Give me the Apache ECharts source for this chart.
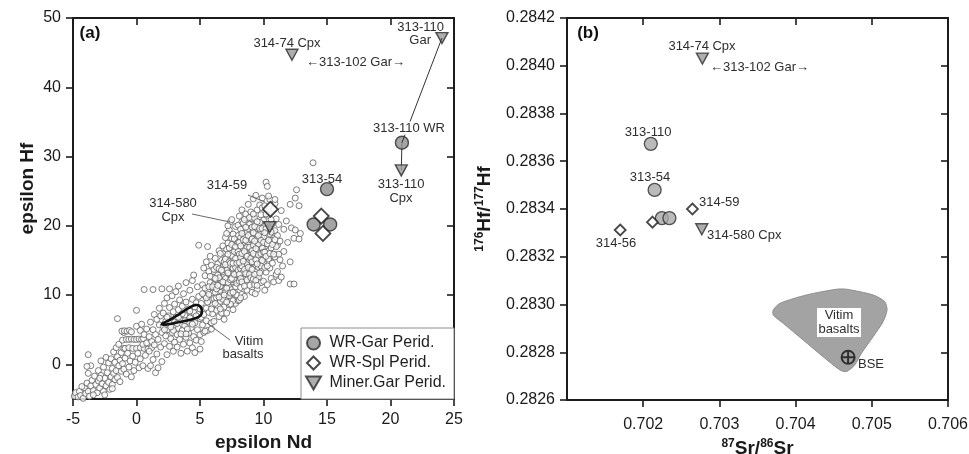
<!DOCTYPE html>
<html>
<head>
<meta charset="utf-8">
<script src="https://cdn.jsdelivr.net/npm/echarts@6/dist/echarts.min.js"></script>
<style>
  html, body { margin: 0; padding: 0; background: #fff; }
  #chart { width: 969px; height: 454px; }
</style>
</head>
<body>
<div id="chart"></div>
<script>
const FONT = '"Liberation Sans", Arial, Helvetica, sans-serif';

// ---- Panel (a): epsilon Nd vs epsilon Hf ----
// Compilation of published basalt / peridotite data (small open circles), by region of the array
const cloudTail = [
  [-4.9,-4.6],[-4.8,-4.1],[-4.6,-4.7],[-4.5,-3.9],[-4.4,-4.5],[-4.2,-4.9],[-4.1,-3.4],[-4.0,-4.2],
  [-3.9,-2.7],[-3.8,-3.9],[-3.8,-1.3],[-3.7,-4.6],[-3.6,-3.1],[-3.6,-0.2],[-3.5,-2.3],[-3.4,-3.8],
  [-3.3,-1.7],[-3.8,1.4],[-3.2,-2.9],[-3.1,-4.1],[-3.0,-0.9],[-3.0,-2.4],[-2.9,-3.4],[-2.8,-1.6],
  [-2.8,0.5],[-2.7,-2.8],[-2.6,-3.9],[-2.6,-0.4],[-2.5,-2.0],[-2.4,-3.1],[-2.4,1.0],[-2.3,-1.2],
  [-2.2,-2.6],[-2.2,0.2],[-2.1,-3.6],[-2.0,-1.8],[-2.0,0.8],[-1.9,-0.6],[-1.9,-2.9],[-1.8,1.8],
  [-1.8,-1.3],[-1.7,-2.2],[-1.7,0.3],[-1.6,2.4],[-1.6,-0.9],[-1.5,6.6],[-1.5,1.1],[-1.5,-1.9],
  [-1.4,-0.2],[-1.4,2.9],[-1.3,0.6],[-1.3,-2.5],[-1.2,1.7],[-1.2,-1.0],[-1.1,3.5],[-1.1,0.1],
  [-1.0,2.3],[-1.0,4.6],[-1.0,-0.7],[-3.9,-0.3],[-4.3,-3.2],[-3.4,-4.4],[-2.9,-2.0],[-2.5,-4.4],
  [-1.9,-3.5]
];
const cloudLow = [
  [-1.15,4.8],[-0.95,4.85],[-0.75,4.8],[-0.55,4.9],[-0.4,4.7],
  [-0.8,3.6],[-0.6,3.6],[-0.4,3.65],[-0.2,3.6],[0.0,3.6],[0.2,3.65],[0.4,3.6],[0.55,3.7],
  [-0.9,2.3],[-0.6,2.4],[-0.3,2.3],[0.0,2.3],[0.3,2.4],[0.6,2.3],[0.9,2.2],[1.2,2.4],
  [-0.9,0.9],[-0.8,-1.4],[-0.7,1.6],[-0.6,-0.4],[-0.5,0.5],[-0.4,-1.8],[-0.3,1.2],[-0.2,-0.9],
  [-0.1,0.3],[0.0,7.8],[0.0,5.5],[0.1,1.6],[0.2,-0.5],[0.3,4.9],[0.3,0.8],[0.4,5.8],[0.5,2.9],
  [0.5,-0.2],[0.6,4.3],[0.7,1.3],[0.8,3.1],[0.8,5.1],[0.9,-0.6],[1.0,1.9],[1.0,4.0],[1.1,-0.2],
  [1.1,6.1],[1.2,3.3],[1.3,0.7],[1.3,5.0],[1.4,2.8],[1.4,7.2],[1.5,-1.2],[1.5,4.3],[1.6,1.5],
  [1.6,6.5],[1.7,-0.5],[1.7,3.6],[1.8,5.7],[1.8,8.1],[1.9,2.5],[1.9,7.0],[2.0,4.6],[2.0,0.4],
  [0.6,10.8],[1.3,10.8]
];
const cloudMid = [
  [2.1,5.5],[2.1,7.4],[2.2,3.0],[2.2,8.8],[2.3,6.2],[2.3,4.1],[2.4,1.4],[2.4,9.6],[2.5,7.0],[2.5,5.0],
  [2.6,2.6],[2.6,8.2],[2.7,6.0],[2.7,3.7],[2.8,9.9],[2.8,4.6],[2.9,7.6],[2.9,1.9],[3.0,5.6],[3.0,8.7],
  [3.0,3.2],[3.1,6.8],[3.1,10.5],[3.2,4.3],[3.2,2.5],[3.3,7.9],[3.3,5.2],[3.4,9.3],[3.4,3.6],[3.5,6.4],
  [3.5,1.6],[3.6,8.4],[3.6,4.9],[3.7,10.2],[3.7,2.9],[3.8,7.1],[3.8,5.6],[3.9,3.9],[3.9,9.0],[4.0,6.2],
  [4.0,1.9],[4.1,8.0],[4.1,4.5],[4.2,10.7],[4.2,3.1],[4.3,6.9],[4.3,5.3],[4.4,9.4],[4.4,2.4],[4.5,7.5],
  [4.5,4.0],[4.6,1.7],[4.6,6.0],[4.7,8.9],[4.7,3.5],[4.8,11.2],[4.8,5.0],[4.9,7.2],[4.9,9.8],[5.0,4.3],
  [5.0,6.6],[5.0,2.2],[2.6,10.9],[3.3,11.3],[3.9,11.8],[4.4,12.1],[4.5,12.9],[2.0,10.9],[2.4,6.8],
  [3.0,6.1],[3.6,7.3],[4.2,7.7],[4.6,8.3],[2.9,4.9],[3.5,4.4],[4.0,5.1],[4.4,5.8],[3.2,5.9],[5.1,6.8],
  [5.0,8.0],[4.7,7.0],[4.2,6.7],[3.8,6.3],[3.3,6.8],[2.7,5.4],[2.2,5.0],[3.9,4.4]
];
const cloudCore = [
  [5.1,3.3],[5.1,8.8],[5.2,5.7],[5.2,11.5],[5.3,7.2],[5.3,4.6],[5.4,9.9],[5.4,12.8],[5.5,6.3],[5.5,8.1],
  [5.6,10.6],[5.6,4.9],[5.7,13.4],[5.7,7.5],[5.8,9.2],[5.8,11.8],[5.9,6.0],[5.9,14.3],[6.0,8.6],[6.0,10.3],
  [6.0,12.6],[5.3,13.9],[5.5,14.8],[5.8,15.6],[4.9,17.2],[5.6,17.0],[5.9,5.1],[5.2,10.2],[5.4,11.0],[5.6,9.0],
  [5.8,12.7],[6.0,7.3],[5.7,11.2],[6.1,11.5],
  [6.1,6.2],[6.1,9.5],[6.1,13.7],[6.2,11.1],[6.2,15.3],[6.3,7.8],[6.3,12.2],[6.4,10.0],[6.4,14.5],[6.4,8.5],
  [6.5,16.4],[6.5,6.9],[6.5,11.6],[6.6,13.2],[6.6,9.1],[6.7,15.0],[6.7,12.0],[6.7,7.4],[6.8,10.6],[6.8,17.1],
  [6.8,14.0],[6.9,8.3],[6.9,12.9],[6.9,16.0],[7.0,11.0],[7.0,9.6],[7.0,13.8],[7.0,18.3],[6.2,8.8],[6.3,14.0],
  [6.6,10.4],[6.9,11.8],[6.4,12.9],[6.7,9.9],[6.2,10.4],[6.3,9.6],[6.5,12.5],[6.6,11.3],[6.8,9.4],[6.8,13.4],
  [6.9,14.8],[6.6,16.0],
  [7.1,7.4],[7.1,12.4],[7.1,15.6],[7.2,10.2],[7.2,17.5],[7.2,14.1],[7.3,8.6],[7.3,19.4],[7.3,12.9],[7.4,11.4],
  [7.4,16.2],[7.4,20.6],[7.5,9.4],[7.5,13.6],[7.5,18.2],[7.6,7.9],[7.6,15.1],[7.6,11.9],[7.7,10.5],[7.7,17.0],
  [7.7,14.4],[7.8,19.9],[7.8,12.6],[7.8,8.8],[7.9,16.0],[7.9,13.3],[7.9,10.0],[8.0,18.6],[8.0,14.9],[8.0,11.7],
  [7.2,20.0],[7.5,20.9],[7.1,18.9],[7.6,9.2],[7.3,11.1],[7.9,15.3],[7.4,13.0],[7.7,12.2],[8.0,9.2],[7.0,15.2],
  [7.0,10.4],[7.0,12.4],[7.1,13.6],[7.2,11.8],[7.3,14.8],[7.3,9.9],[7.4,12.2],[7.5,15.7],[7.5,10.8],[7.6,13.9],
  [7.7,16.3],[7.8,11.2],[7.8,14.0],[7.9,17.5],[8.0,12.9],[8.0,16.3],[7.1,16.6],[7.6,18.8],[8.0,20.1],
  [7.4,8.7],[6.9,6.5],[5.4,4.8]
];
const cloudDense = [
  [5.5,9.6],[5.7,10.1],[5.9,8.0],[6.0,11.2],[6.2,12.4],[6.3,10.9],[6.4,11.4],[6.5,9.7],[6.5,13.8],[6.6,8.0],
  [6.7,13.6],[6.8,11.9],[6.9,10.0],[7.0,14.4],[7.1,11.0],[7.1,9.0],[7.2,13.2],[7.2,15.9],[7.3,16.8],[7.4,10.3],
  [7.4,14.6],[7.5,12.4],[7.5,17.3],[7.6,14.6],[7.6,10.4],[7.7,13.0],[7.7,18.1],[7.8,15.3],[7.8,17.0],[7.9,11.7],
  [7.9,14.6],[8.0,13.6],[8.0,17.6],[8.1,15.9],[8.1,12.0],[8.2,18.3],[8.2,13.8],[8.3,15.1],[8.3,20.6],[8.4,13.3],
  [8.4,19.3],[8.5,15.0],[8.5,17.2],[8.6,14.2],[8.6,18.6],[8.7,13.4],[8.7,17.8],[8.8,15.3],[8.8,21.1],[8.9,14.2],
  [8.9,18.2],[9.0,17.0],[9.0,19.4],[9.1,15.5],[9.1,21.0],[9.2,14.0],[9.2,18.2],[9.3,16.7],[9.4,14.3],[9.4,20.7],
  [9.5,17.2],[9.5,12.9],[9.6,19.2],[9.6,16.6],[9.7,14.3],[9.7,18.4],[9.8,15.1],[9.8,20.5],[9.9,17.5],[9.9,14.0],
  [10.0,19.3],[10.0,15.3],[10.1,17.6],[10.2,16.6],[10.3,18.4],[10.4,16.4],[10.5,19.8],[10.6,17.9],[10.7,15.6],
  [10.8,19.0],[11.0,15.8],[11.1,17.2]
];
const cloudUpper = [
  [8.1,9.3],[8.1,13.0],[8.1,17.6],[8.1,21.4],[8.2,11.1],[8.2,15.4],[8.2,19.5],[8.3,10.1],[8.3,14.2],[8.3,22.3],
  [8.4,12.3],[8.4,16.8],[8.4,20.4],[8.5,9.8],[8.5,18.5],[8.5,13.7],[8.6,11.8],[8.6,15.9],[8.6,21.7],[8.7,14.6],
  [8.7,19.1],[8.7,10.7],[8.8,17.3],[8.8,12.8],[8.8,23.1],[8.9,20.2],[8.9,15.1],[8.9,11.4],[9.0,18.0],[9.0,13.9],
  [9.0,22.0],[9.0,16.5],[8.2,12.4],[8.4,18.0],[8.6,13.1],[8.8,19.6],[8.3,16.0],[8.7,16.9],[8.9,13.0],[8.5,20.9],
  [8.1,14.7],[8.2,17.1],[8.3,11.9],[8.3,18.9],[8.4,14.9],[8.5,16.3],[8.5,11.3],[8.6,17.9],[8.6,19.8],[8.7,12.2],
  [8.7,15.6],[8.8,14.0],[8.8,18.6],[8.9,16.9],[8.9,21.2],[9.0,12.5],[9.0,15.3],[8.2,9.6],
  [9.1,10.4],[9.1,19.8],[9.1,14.8],[9.2,12.3],[9.2,23.9],[9.2,17.2],[9.3,21.1],[9.3,15.8],[9.3,11.5],[9.4,13.4],
  [9.4,18.8],[9.4,24.4],[9.5,16.3],[9.5,10.8],[9.5,22.3],[9.6,14.0],[9.6,20.0],[9.6,12.6],[9.7,17.7],[9.7,23.0],
  [9.7,15.2],[9.8,19.2],[9.8,11.8],[9.8,21.6],[9.9,13.6],[9.9,16.8],[9.9,24.0],[10.0,18.4],[10.0,14.6],[10.0,20.8],
  [10.0,12.0],[9.2,19.0],[9.4,15.1],[9.6,17.4],[9.8,14.2],[9.3,13.0],[9.5,18.1],[9.7,20.5],[9.9,22.6],[9.1,16.4],
  [9.1,18.1],[9.1,13.7],[9.2,16.0],[9.2,21.7],[9.3,17.8],[9.3,19.9],[9.4,12.1],[9.4,16.7],[9.5,14.5],[9.5,20.6],
  [9.6,18.6],[9.6,15.8],[9.7,13.2],[9.7,19.6],[9.8,16.0],[9.8,17.9],[9.9,15.0],[9.9,19.6],[10.0,16.2],[10.0,17.6],
  [9.35,10.2],[9.5,11.4],
  [10.1,10.7],[10.1,16.2],[10.1,22.9],[10.2,26.3],[10.2,13.3],[10.2,19.6],[10.3,25.7],[10.3,17.4],[10.3,11.5],
  [10.4,15.2],[10.4,21.5],[10.5,23.8],[10.5,13.9],[10.5,18.8],[10.6,16.8],[10.6,12.4],[10.7,20.3],[10.7,14.6],
  [10.8,22.4],[10.8,17.7],[10.8,11.9],[10.9,15.5],[10.9,19.3],[11.0,13.0],[11.0,21.0],[11.0,17.0],[11.1,13.4],
  [11.1,18.6],[11.2,12.1],[11.2,15.9],[11.2,20.2],[11.3,15.1],[11.3,17.8],[11.4,22.2],[11.5,14.2],[11.6,16.3],
  [11.6,19.5],[11.8,20.7],[11.9,17.6],[10.4,24.3],[10.6,20.9],[10.9,23.2],[11.4,12.6],
  [10.1,14.0],[10.1,19.0],[10.2,15.6],[10.2,21.7],[10.3,14.2],[10.4,17.9],[10.5,16.0],[10.6,19.1],[10.7,17.3],
  [10.8,15.9],[10.9,18.0],[10.9,23.8]
];
const cloudOuter = [
  [12.1,14.8],[12.1,11.6],[12.4,11.6],[12.2,19.7],[12.5,19.4],[12.4,18.2],[12.8,18.1],[12.1,23.1],
  [12.5,24.0],[12.8,22.9],[12.6,25.2],[13.9,29.1],[12.9,18.9]
];

// Vitim basalts field outline (epsilon Nd, epsilon Hf)
const vitimOutlineA = [
  [2.0,5.8],[2.7,6.5],[3.4,7.3],[4.0,8.0],[4.5,8.5],[4.9,8.5],[5.15,7.8],[5.0,7.0],[4.4,6.5],[3.2,6.05],[2.4,5.75]
];

// Samples: [epsilon Nd, epsilon Hf]
// WR garnet peridotites: 313-110, 313-54, and two further samples
const wrGarA = [[20.9,32.0],[15.0,25.3],[13.95,20.2],[15.25,20.2]];
// WR spinel peridotites: 314-59 and two further samples
const wrSplA = [[10.54,22.4],[14.55,21.4],[14.68,18.9]];
// Minerals: 313-110 Gar, 314-74 Cpx, 313-110 Cpx, 314-580 Cpx
const minerA = [[24.05,47.1],[12.24,44.7],[20.85,28.0],[10.48,19.8]];

const xTicksA = [-5,0,5,10,15,20,25];
const yTicksA = [0,10,20,30,40,50];

// ---- Panel (b): 87Sr/86Sr vs 176Hf/177Hf ----
// 313-110, 313-54, and two further garnet peridotites
const wrGarB = [[0.70210,0.283673],[0.70215,0.283480],[0.702245,0.283362],[0.702344,0.283362]];
// 314-56, one further spinel peridotite, 314-59
const wrSplB = [[0.701698,0.283312],[0.702122,0.283345],[0.702646,0.283400]];
// 314-74 Cpx, 314-580 Cpx
const minerB = [[0.702777,0.284030],[0.702769,0.283315]];
// Bulk silicate earth
const bseB = [[0.704689,0.282779]];
// Vitim basalts field
const vitimFieldB = [
  [0.703707,0.282977],[0.703795,0.283005],[0.704144,0.283040],[0.704537,0.283064],[0.704668,0.283064],
  [0.705017,0.283040],[0.705170,0.283012],[0.705200,0.282977],[0.705148,0.282928],[0.705017,0.282865],
  [0.704865,0.282796],[0.704777,0.282747],[0.704668,0.282719],[0.704581,0.282726],[0.704362,0.282781],
  [0.704100,0.282851],[0.703838,0.282921],[0.703707,0.282956]
];

const xTicksB = [0.702,0.703,0.704,0.705,0.706];
const yTicksB = [0.2826,0.2828,0.2830,0.2832,0.2834,0.2836,0.2838,0.2840,0.2842];

// ---- styles ----
const AXIS_COLOR = '#1c1c1c';
const GAR_A = { color: '#8e8e8e', borderColor: '#2a2a2a', borderWidth: 1.4 };
const GAR_B = { color: '#a9a9a9', borderColor: '#2a2a2a', borderWidth: 1.3 };
const SPL = { color: '#ffffff', borderColor: '#1a1a1a', borderWidth: 1.8 };
const MIN = { color: '#9a9a9a', borderColor: '#2a2a2a', borderWidth: 1.4 };
const TRI_DOWN = 'path://M0,0L12,0L6,10.4Z';
const DIAMOND = 'path://M6,0L12,6L6,12L0,6Z';

function frameAxis(gridIndex, pos, min, max, ticks, showLabels, extra) {
  return Object.assign({
    type: 'value', gridIndex, position: pos, min, max,
    axisLine: { show: true, onZero: false, lineStyle: { color: AXIS_COLOR, width: 2 } },
    axisTick: { show: true, inside: !showLabels, length: 7, customValues: ticks, lineStyle: { color: AXIS_COLOR, width: 1.6 } },
    axisLabel: { show: false },
    splitLine: { show: false }
  }, extra || {});
}
function tickLabels(ticks, margin, fmt) {
  return { show: true, customValues: ticks, fontSize: 16, color: '#1a1a1a', fontFamily: FONT, margin, formatter: fmt };
}

const supRich = {
  b: { fontSize: 19, fontWeight: 'bold', fontFamily: FONT, color: '#1a1a1a' },
  s: { fontSize: 12, fontWeight: 'bold', fontFamily: FONT, color: '#1a1a1a', padding: [0, 0, 9, 0] }
};

function polygonRenderer(points, style, smooth) {
  return function (params, api) {
    if (params.dataIndex !== 0) return null;
    return {
      type: 'polygon',
      shape: { points: points.map(p => api.coord(p)), smooth },
      style
    };
  };
}

function label(text, x, y, align, extra) {
  return {
    type: 'text', x, y, z: 100,
    style: Object.assign({
      text, fontSize: 13, fontFamily: FONT, fill: '#2e2e2e',
      align: align || 'center', verticalAlign: 'middle'
    }, extra || {})
  };
}
function leader(x1, y1, x2, y2) {
  return { type: 'line', z: 99, shape: { x1, y1, x2, y2 }, style: { stroke: '#6a6a6a', lineWidth: 1 } };
}

const option = {
  animation: false,
  backgroundColor: '#ffffff',
  grid: [
    { left: 73, top: 18, width: 381, height: 381, containLabel: false, outerBoundsMode: 'none' },
    { left: 567, top: 18, width: 381, height: 382, containLabel: false, outerBoundsMode: 'none' }
  ],
  xAxis: [
    frameAxis(0, 'bottom', -5, 25, xTicksA, true, {
      name: 'epsilon Nd', nameLocation: 'middle', nameGap: 34,
      nameTextStyle: { fontSize: 19, fontWeight: 'bold', fontFamily: FONT, color: '#1a1a1a' },
      axisLabel: tickLabels(xTicksA, 13, v => String(v))
    }),
    frameAxis(0, 'top', -5, 25, xTicksA, false),
    frameAxis(1, 'bottom', 0.701, 0.706, xTicksB, true, {
      name: '{s|87}{b|Sr/}{s|86}{b|Sr}', nameLocation: 'middle', nameGap: 33,
      nameTextStyle: { rich: supRich },
      axisLabel: tickLabels(xTicksB, 17, v => v.toFixed(3))
    }),
    frameAxis(1, 'top', 0.701, 0.706, xTicksB, false)
  ],
  yAxis: [
    frameAxis(0, 'left', -5, 50, yTicksA, true, {
      name: 'epsilon Hf', nameLocation: 'middle', nameGap: 36, nameRotate: 90,
      nameTextStyle: { fontSize: 19, fontWeight: 'bold', fontFamily: FONT, color: '#1a1a1a', padding: [0, 0, 0, 40] },
      axisLabel: tickLabels(yTicksA, 12, v => String(v))
    }),
    frameAxis(0, 'right', -5, 50, yTicksA, false),
    frameAxis(1, 'left', 0.2826, 0.2842, yTicksB, true, {
      name: '{s|176}{b|Hf/}{s|177}{b|Hf}', nameLocation: 'middle', nameGap: 72, nameRotate: 90,
      nameTextStyle: { rich: supRich },
      axisLabel: tickLabels(yTicksB, 12, v => v.toFixed(4))
    }),
    frameAxis(1, 'right', 0.2826, 0.2842, yTicksB, false)
  ],
  legend: {
    data: [
      { name: 'WR-Gar Perid.', icon: 'circle' },
      { name: 'WR-Spl Perid.', icon: DIAMOND },
      { name: 'Miner.Gar Perid.', icon: TRI_DOWN }
    ],
    orient: 'vertical', right: 515, top: 328,
    itemWidth: 22, itemHeight: 13, itemGap: 0,
    padding: [5, 8, 6, 4],
    borderColor: '#8c8c8c', borderWidth: 1, backgroundColor: '#ffffff',
    selectedMode: false,
    textStyle: { fontSize: 16, color: '#1f1f1f', fontFamily: FONT, lineHeight: 20 }
  },
  series: [
    // panel (a)
    {
      name: 'Compilation', type: 'scatter', xAxisIndex: 0, yAxisIndex: 0, silent: true, z: 1,
      symbol: 'circle', symbolSize: 6,
      itemStyle: { color: '#ffffff', borderColor: '#5e5e5e', borderWidth: 1 },
      data: [].concat(cloudTail, cloudLow, cloudMid, cloudCore, cloudDense, cloudUpper, cloudOuter)
    },
    {
      name: 'Vitim basalts', type: 'custom', xAxisIndex: 0, yAxisIndex: 0, z: 3, silent: true,
      data: [vitimOutlineA[0]],
      renderItem: polygonRenderer(vitimOutlineA, { fill: 'none', stroke: '#111111', lineWidth: 2.6 }, 0.35)
    },
    {
      name: '313-110 WR-Cpx', type: 'line', xAxisIndex: 0, yAxisIndex: 0, z: 3, silent: true,
      symbol: 'none', lineStyle: { color: '#333', width: 1 },
      data: [wrGarA[0], minerA[2]]
    },
    {
      name: 'WR-Gar Perid.', type: 'scatter', xAxisIndex: 0, yAxisIndex: 0, z: 5,
      symbol: 'circle', symbolSize: 13, itemStyle: GAR_A, data: wrGarA
    },
    {
      name: 'WR-Spl Perid.', type: 'scatter', xAxisIndex: 0, yAxisIndex: 0, z: 6,
      symbol: 'diamond', symbolSize: 15, itemStyle: SPL, data: wrSplA
    },
    {
      name: 'Miner.Gar Perid.', type: 'scatter', xAxisIndex: 0, yAxisIndex: 0, z: 6,
      symbol: TRI_DOWN, symbolSize: [12, 11], itemStyle: MIN, data: minerA
    },
    {
      name: '313-110 WR-Gar', type: 'line', xAxisIndex: 0, yAxisIndex: 0, z: 7, silent: true,
      symbol: 'none', lineStyle: { color: '#333', width: 1 },
      data: [wrGarA[0], minerA[0]]
    },
    // panel (b)
    {
      name: 'Vitim field', type: 'custom', xAxisIndex: 2, yAxisIndex: 2, z: 2, silent: true,
      data: [vitimFieldB[0]],
      renderItem: polygonRenderer(vitimFieldB, { fill: '#a3a3a3', stroke: '#8f8f8f', lineWidth: 1 }, 0.25)
    },
    {
      name: 'WR-Gar Perid.', type: 'scatter', xAxisIndex: 2, yAxisIndex: 2, z: 5,
      symbol: 'circle', symbolSize: 13, itemStyle: GAR_B, data: wrGarB
    },
    {
      name: 'WR-Spl Perid.', type: 'scatter', xAxisIndex: 2, yAxisIndex: 2, z: 6,
      symbol: 'diamond', symbolSize: 11, itemStyle: SPL, data: wrSplB
    },
    {
      name: 'Miner.Gar Perid.', type: 'scatter', xAxisIndex: 2, yAxisIndex: 2, z: 6,
      symbol: TRI_DOWN, symbolSize: [12, 11], itemStyle: MIN, data: minerB
    },
    {
      name: 'BSE', type: 'scatter', xAxisIndex: 2, yAxisIndex: 2, z: 7,
      symbol: 'path://M0,10A10,10 0 1 1 20,10A10,10 0 1 1 0,10ZM10,0L10,20M0,10L20,10',
      symbolSize: 13,
      itemStyle: { color: 'rgba(0,0,0,0)', borderColor: '#111', borderWidth: 2 },
      data: bseB
    }
  ],
  graphic: [
    // panel (a) annotations
    label('(a)', 90, 33, 'center', { fontSize: 17, fontWeight: 'bold', fill: '#111' }),
    label('313-110', 444, 27, 'right'),
    label('Gar', 431, 40, 'right'),
    label('314-74 Cpx', 287, 43),
    label('\u2190313-102 Gar\u2192', 306, 62, 'left'),
    label('313-110 WR', 409, 128, 'center', { backgroundColor: '#ffffff', padding: [0, 1, 0, 1] }),
    label('313-110', 401, 184),
    label('Cpx', 401, 198),
    label('313-54', 322, 179),
    label('314-59', 227, 185),
    leader(248, 195, 265, 202),
    label('314-580', 173, 203),
    label('Cpx', 173, 217),
    leader(192, 214, 230, 222),
    label('Vitim', 249, 341),
    label('basalts', 243, 354),
    leader(230, 340, 207, 323),
    // panel (b) annotations
    label('(b)', 588, 33, 'center', { fontSize: 17, fontWeight: 'bold', fill: '#111' }),
    label('314-74 Cpx', 702, 46),
    label('\u2190313-102 Gar\u2192', 710, 67, 'left'),
    label('313-110', 648, 132),
    label('313-54', 650, 177),
    label('314-59', 699, 202, 'left'),
    label('314-580 Cpx', 707, 235, 'left'),
    label('314-56', 616, 243),
    { type: 'rect', z: 98, shape: { x: 817, y: 308, width: 44, height: 29 }, style: { fill: '#ffffff' } },
    label('Vitim', 839, 315),
    label('basalts', 839, 329),
    label('BSE', 858, 364, 'left')
  ]
};

const chart = echarts.init(document.getElementById('chart'), null, { renderer: 'canvas' });
chart.setOption(option);
</script>
</body>
</html>
